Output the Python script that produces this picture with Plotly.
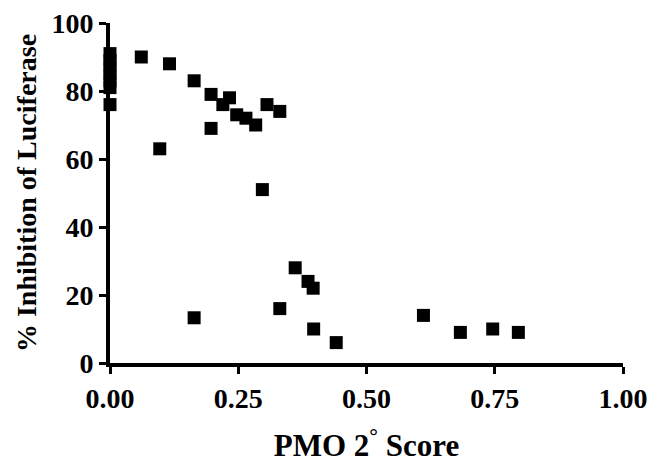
import plotly.graph_objects as go

pmo_score = [0.0, 0.0, 0.0, 0.0, 0.0, 0.0, 0.0,
             0.061, 0.097, 0.116, 0.164, 0.164, 0.197, 0.197, 0.220, 0.233,
             0.247, 0.265, 0.284, 0.297, 0.306, 0.331, 0.331, 0.361, 0.386,
             0.396, 0.397, 0.441, 0.611, 0.683, 0.746, 0.796]
inhibition = [91, 89, 87, 85, 83, 81, 76,
              90, 63, 88, 83, 13.3, 79, 69, 76, 78,
              73, 72, 70, 51, 76, 74, 16, 28, 24,
              22, 10, 6, 14, 9, 10, 9]

x_ticks = [0, 0.25, 0.5, 0.75, 1.0]
y_ticks = [0, 20, 40, 60, 80, 100]

font_family = "Liberation Serif"

fig = go.Figure()
fig.add_trace(go.Scatter(
    x=pmo_score, y=inhibition, mode="markers",
    marker=dict(symbol="square", size=13, color="black", line=dict(width=0)),
    cliponaxis=False, showlegend=False,
))

axis_common = dict(
    showline=True, linewidth=4, linecolor="black",
    ticks="outside", ticklen=7, tickwidth=3, tickcolor="black",
    showgrid=False, zeroline=False,
    tickfont=dict(family=font_family, size=28, color="black", weight="bold"),
)

fig.update_xaxes(
    range=[0, 1], tickvals=x_ticks, tickformat=".2f",
    title=dict(text="PMO 2<sup>°</sup> Score", standoff=24,
               font=dict(family=font_family, size=31, color="black", weight="bold")),
    **axis_common,
)
fig.update_yaxes(
    range=[0, 100], tickvals=y_ticks,
    title=dict(text="% Inhibition of Luciferase", standoff=8,
               font=dict(family=font_family, size=28, color="black", weight="bold")),
    **axis_common,
)

fig.update_layout(
    width=650, height=463,
    margin=dict(l=110, r=27, t=23, b=100, autoexpand=False),
    plot_bgcolor="white", paper_bgcolor="white",
)

fig.write_html("out.html")
